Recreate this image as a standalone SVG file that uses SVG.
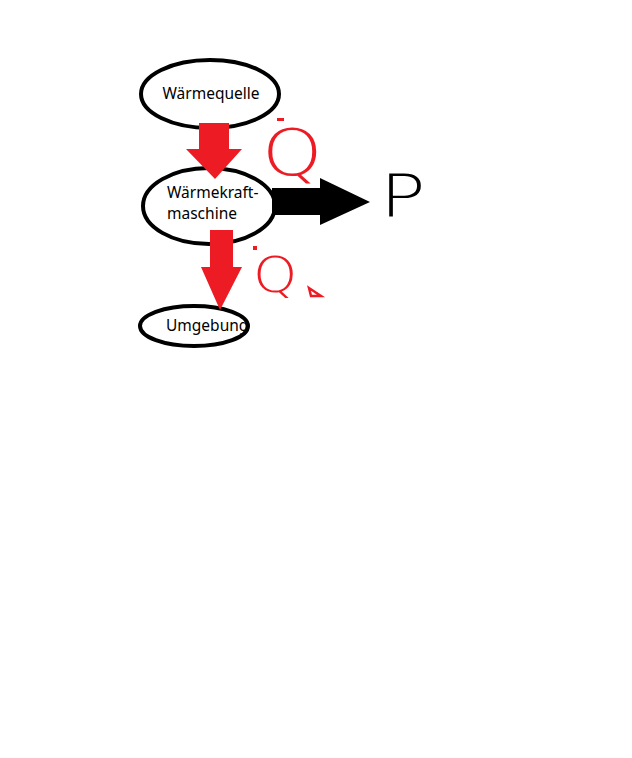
<svg xmlns="http://www.w3.org/2000/svg" width="632" height="758" viewBox="0 0 632 758">
<style>
.node{fill:#fff;stroke:#000;stroke-width:4}
.lbl{font-family:"Noto Sans","Open Sans",sans-serif;font-size:15.5px;fill:#000}
.red{fill:#ED1C24}
.hand{font-family:"DejaVu Sans","Liberation Sans",sans-serif;font-weight:200}
</style>
<rect width="632" height="758" fill="#fff"/>
<g id="waermequelle">
<ellipse class="node" cx="210" cy="94" rx="69" ry="34"/>
<text class="lbl" x="211" y="99" text-anchor="middle">Wärmequelle</text>
</g>
<g id="waermekraftmaschine">
<ellipse class="node" cx="209" cy="206" rx="66" ry="38"/>
<text class="lbl" x="167" y="198">Wärmekraft-</text>
<text class="lbl" x="167" y="219">maschine</text>
</g>
<g id="umgebung">
<ellipse class="node" cx="194" cy="326" rx="54" ry="20"/>
<text class="lbl" x="166" y="331" font-size="15">Umgebung</text>
</g>
<g id="connectors">
<polygon class="red" points="199,123 229,123 229,149 242,149 215,179 186,149 199,149"/>
<polygon class="red" points="210,230 233,230 233,267 242,267 220,310 201,267 210,267"/>
<polygon fill="#000" points="272,188 320,188 320,178 370,202 320,225 320,215 272,215"/>
</g>
<g id="labels">
<text class="hand" transform="translate(262,175) scale(1.2,1)" font-size="64" fill="#ED1C24">Q</text>
<rect class="red" x="277" y="118" width="7" height="3"/>
<text class="hand" transform="translate(253,292) scale(1.15,1)" font-size="49" fill="#ED1C24">Q</text>
<rect class="red" x="253" y="246" width="4" height="4"/>
<path d="M309,288 L311,296 L321,296 Z" fill="none" stroke="#ED1C24" stroke-width="2.5"/>
<text class="hand" transform="translate(380,216) scale(1.3,1)" font-size="58" fill="#000">P</text>
</g>
</svg>
